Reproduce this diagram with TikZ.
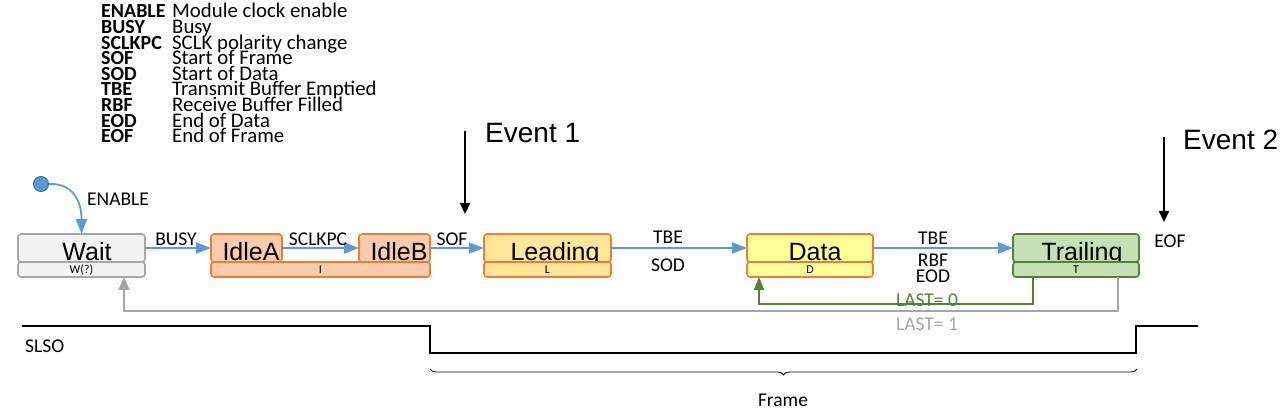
\documentclass[tikz,border=0pt]{standalone}
\usepackage{fontspec}
\setmainfont{Carlito}
\newfontfamily\arialfont{Liberation Sans}
\usetikzlibrary{arrows.meta,decorations.pathreplacing}
\definecolor{blueline}{HTML}{5B9BD5}
\definecolor{bluedark}{HTML}{41719C}
\definecolor{waitfill}{HTML}{F2F2F2}
\definecolor{waitdraw}{HTML}{A6A6A6}
\definecolor{orangedraw}{HTML}{ED7D31}
\definecolor{idlefill}{HTML}{F8CBAD}
\definecolor{leadfill}{HTML}{FFE699}
\definecolor{datafill}{HTML}{FFFF99}
\definecolor{trailfill}{HTML}{C5E0B4}
\definecolor{greendraw}{HTML}{548235}
\begin{document}
\begin{tikzpicture}[x=1pt,y=-1pt,
		lbl/.style={font=\fontsize{19.5}{20}\selectfont,inner sep=0pt,anchor=base},
		statebox/.style={rectangle,rounded corners=3pt,line width=1.6pt,inner sep=0pt,outer sep=0pt,minimum height=28},
		subbox/.style={rectangle,rounded corners=3pt,line width=1.6pt,inner sep=0pt,outer sep=0pt,minimum height=15,font=\fontsize{12}{12}\selectfont},
		statetext/.style={font=\arialfont\fontsize{25}{25}\selectfont,inner sep=0pt,anchor=base},
		trans/.style={blueline,line width=1.8pt,-{Triangle[length=15pt,width=11pt]}},
		eventarrow/.style={black,line width=2.2pt,-{Triangle[length=11pt,width=10pt]}},
		wave/.style={black,line width=2.2pt}]
			% Fix the page size
			\useasboundingbox (0,0) rectangle (1283,411);
			% Legend
			\foreach \term/\desc [count=\i] in {ENABLE/Module clock enable,BUSY/Busy,SCLKPC/SCLK polarity change,SOF/Start of Frame,SOD/Start of Data,TBE/Transmit Buffer Emptied,RBF/Receive Buffer Filled,EOD/End of Data,EOF/End of Frame}
			{
				\node[lbl,anchor=base west,font=\bfseries\fontsize{20}{20}\selectfont] (term\i) at (101,{18+15.6*(\i-1)}) {\term};
				\node[lbl,anchor=base west,font=\fontsize{20.8}{20}\selectfont] (desc\i) at (172,{18+15.6*(\i-1)}) {\desc};
			}
			% Events
			\coordinate (ev1) at (465,131);
			\coordinate (ev1tip) at (465,214);
			\draw[eventarrow] (ev1) -- (ev1tip);
			\node[statetext,anchor=base west,font=\arialfont\fontsize{28}{28}\selectfont] (ev1L) at (485,143) {Event 1};
			\coordinate (ev2) at (1164,137);
			\coordinate (ev2tip) at (1164,222);
			\draw[eventarrow] (ev2) -- (ev2tip);
			\node[statetext,anchor=base west,font=\arialfont\fontsize{28}{28}\selectfont] (ev2L) at (1183,150) {Event 2};
			% Wait state
			\node[statebox,fill=waitfill,draw=waitdraw,minimum width=127] (wait) at (81.5,248) {};
			\node[statetext] (waitL) at (87,261) {Wait};
			\node[subbox,fill=waitfill,draw=waitdraw,minimum width=127] (waitS) at (81.5,269.5) {W(?)};
			% Idle states
			\node[statebox,fill=idlefill,draw=orangedraw,minimum width=71] (idleA) at (246.5,248) {};
			\node[statetext] (idleAL) at (251,261) {IdleA};
			\node[statebox,fill=idlefill,draw=orangedraw,minimum width=71] (idleB) at (394.5,248) {};
			\node[statetext] (idleBL) at (399,261) {IdleB};
			\node[subbox,fill=idlefill,draw=orangedraw,minimum width=219] (idleS) at (320.5,269.5) {I};
			% Leading state
			\node[statebox,fill=leadfill,draw=orangedraw,minimum width=127] (lead) at (547.5,248) {};
			\node[statetext] (leadL) at (555,261) {Leading};
			\node[subbox,fill=leadfill,draw=orangedraw,minimum width=127] (leadS) at (547.5,269.5) {L};
			% Data state
			\node[statebox,fill=datafill,draw=orangedraw,minimum width=126] (data) at (810,248) {};
			\node[statetext] (dataL) at (815,261) {Data};
			\node[subbox,fill=datafill,draw=orangedraw,minimum width=126] (dataS) at (810,269.5) {D};
			% Trailing state
			\node[statebox,fill=trailfill,draw=greendraw,minimum width=126] (trail) at (1076,248) {};
			\node[statetext] (trailL) at (1082,261) {Trailing};
			\node[subbox,fill=trailfill,draw=greendraw,minimum width=126] (trailS) at (1076,269.5) {T};
			% Start point
			\node[circle,fill=blueline,draw=bluedark,line width=1pt,minimum size=15,inner sep=0pt] (start) at (41,184) {};
			\draw[trans] (start.east) .. controls (72,183) and (81.5,200) .. (wait.north);
			\node[lbl] (enableL) at (118,206) {ENABLE};
			% Transitions
			\draw[trans] (wait.east) -- (idleA.west);
			\node[lbl] (busyL) at (176,246) {BUSY};
			\draw[trans] (idleA.east) -- (idleB.west);
			\node[lbl] (sclkL) at (318,246) {SCLKPC};
			\draw[trans] (idleB.east) -- (lead.west);
			\node[lbl] (sofL) at (452,246) {SOF};
			\draw[trans] (lead.east) -- (data.west);
			\node[lbl] (tbeAL) at (668,244) {TBE};
			\node[lbl] (sodL) at (668,272) {SOD};
			\draw[trans] (data.east) -- (trail.west);
			\node[lbl] (tbeBL) at (933,245) {TBE};
			\node[lbl] (rbfL) at (933,267) {RBF};
			\node[lbl] (eodL) at (933,283) {EOD};
			\node[lbl] (eofL) at (1170,248) {EOF};
			% Back to Data or Wait
			\draw[greendraw,line width=1.8pt,-{Triangle[length=13pt,width=10pt]}] ([xshift=-43pt]trailS.south) -- ++(0,27) -| ([xshift=-51pt]dataS.south);
			\node[lbl,text=greendraw] (last0L) at (927,307) {LAST= 0};
			\draw[waitdraw,line width=1.8pt,-{Triangle[length=13pt,width=11pt]}] ([xshift=42pt]trailS.south) -- ++(0,34) -| ([xshift=42.5pt]waitS.south);
			\node[lbl,text=waitdraw] (last1L) at (927,331) {LAST= 1};
			% SLSO signal
			\draw[wave] (22,326) -- (430,326) -- (430,353) -- (1136,353) -- (1136,326) -- (1198,326);
			\node[lbl,anchor=base west] (slsoL) at (25,353) {SLSO};
			\draw[line width=0.8pt,decorate,decoration={brace,mirror,amplitude=6pt}] (430,369) -- (1137,369);
			\node[lbl] (frameL) at (783,407) {Frame};
		\end{tikzpicture}
\end{document}
